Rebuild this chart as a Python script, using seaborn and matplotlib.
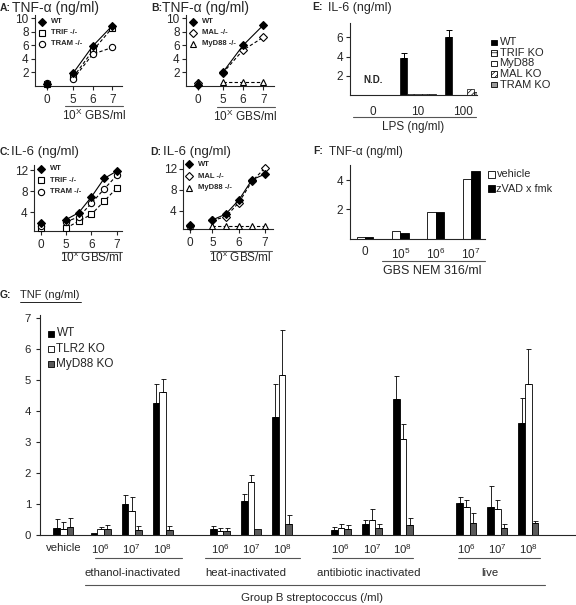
import matplotlib
matplotlib.use("Agg")
import matplotlib.pyplot as plt
from matplotlib.lines import Line2D
from matplotlib.patches import Rectangle
import pandas as pd
import seaborn as sns

# ---- values ----
# A / B : TNF-a (ng/ml) vs 10^x GBS/ml
ab_dose = [0, 5, 6, 7]
a_wt = [0.3, 1.9, 5.9, 8.9]
a_trif = [0.3, 1.3, 5.2, 8.6]
a_tram = [0.4, 1.0, 4.7, 5.7]
b_wt = [0.1, 2.0, 6.0, 9.0]
b_mal = [0.5, 1.9, 5.3, 7.2]
b_myd88 = [0.6, 0.6, 0.6, 0.6]

# C / D : IL-6 (ng/ml)
cd_dose = [0, 5, 5.5, 6, 6.5, 7]
c_wt = [1.9, 2.6, 3.9, 6.9, 10.4, 11.8]
c_trif = [1.0, 1.0, 2.3, 3.6, 6.1, 8.6]
c_tram = [1.4, 2.2, 3.1, 5.7, 8.4, 11.0]
d_wt = [1.2, 2.2, 3.3, 6.0, 9.9, 11.0]
d_mal = [1.1, 2.1, 2.8, 5.5, 9.6, 12.2]
d_myd88 = [1.0, 1.0, 1.0, 1.0, 1.0, 1.0]

# E : IL-6 vs LPS
e_lps = ["0", "10", "100"]
e_strains = ["WT", "TRIF KO", "MyD88", "MAL KO", "TRAM KO"]
e_wt = [0.05, 3.9, 6.0]
e_wt_err = [0.0, 0.45, 0.7]
e_trif = [0.05, 0.12, 0.05]
e_myd88 = [0.05, 0.18, 0.05]
e_mal = [0.05, 0.15, 0.7]
e_tram = [0.05, 0.1, 0.35]

# F : TNF-a vs GBS NEM 316
f_dose = ["0", r"$\mathregular{10^5}$", r"$\mathregular{10^6}$", r"$\mathregular{10^7}$"]
f_treat = ["vehicle", "zVAD x fmk"]
f_vehicle = [0.12, 0.5, 1.85, 4.1]
f_zvad = [0.12, 0.42, 1.85, 4.6]

# G : TNF (ng/ml)
g_ticks = ["vehicle"] + [r"$\mathregular{10^6}$", r"$\mathregular{10^7}$", r"$\mathregular{10^8}$"] * 4
g_groups = ["ethanol-inactivated", "heat-inactivated", "antibiotic inactivated", "live"]
g_strains = ["WT", "TLR2 KO", "MyD88 KO"]
g_wt = [0.22, 0.05, 1.0, 4.27, 0.18, 1.1, 3.8, 0.15, 0.34, 4.4, 1.04, 0.89, 3.61]
g_wt_err = [0.30, 0.0, 0.28, 0.60, 0.12, 0.22, 1.08, 0.12, 0.14, 0.73, 0.20, 0.69, 0.81]
g_tlr2 = [0.20, 0.18, 0.77, 4.63, 0.14, 1.72, 5.15, 0.22, 0.47, 3.09, 0.89, 0.84, 4.87]
g_tlr2_err = [0.23, 0.09, 0.45, 0.42, 0.08, 0.21, 1.45, 0.12, 0.36, 0.49, 0.24, 0.28, 1.13]
g_myd88 = [0.25, 0.19, 0.16, 0.16, 0.13, 0.18, 0.35, 0.20, 0.23, 0.32, 0.40, 0.23, 0.39]
g_myd88_err = [0.30, 0.13, 0.12, 0.14, 0.11, 0.0, 0.28, 0.11, 0.13, 0.23, 0.30, 0.11, 0.07]

# ---- layout ----
g_pos = [0, 1.2, 2.2, 3.2, 5.05, 6.05, 7.05, 8.95, 9.95, 10.95, 13, 14, 15]

sns.set_style("ticks")
plt.rcParams["font.family"] = ["Liberation Sans", "DejaVu Sans"]
plt.rcParams["mathtext.fontset"] = "custom"
plt.rcParams["mathtext.rm"] = "Liberation Sans"
plt.rcParams["axes.linewidth"] = 0.8
plt.rcParams["hatch.linewidth"] = 0.5

W, H = 576, 605
fig = plt.figure(figsize=(W / 100, H / 100), dpi=100)


def box(l, t, r, b):
    return [l / W, 1 - b / H, (r - l) / W, (b - t) / H]


def ftext(x, y, s, **kw):
    kw.setdefault("va", "center")
    fig.text(x / W, 1 - y / H, s, **kw)


def fline(x1, x2, y, color="#555555", lw=0.8):
    fig.add_artist(Line2D([x1 / W, x2 / W], [1 - y / H, 1 - y / H],
                          transform=fig.transFigure, color=color, lw=lw))


def fmark(x, y, **kw):
    fig.add_artist(Line2D([x / W], [1 - y / H], transform=fig.transFigure,
                          ls="none", mec="black", mew=0.8, **kw))


def fsquare(x, y, size, fc, hatch=None):
    fig.add_artist(Rectangle(((x - size / 2) / W, 1 - (y + size / 2) / H), size / W, size / H,
                             transform=fig.transFigure, fc=fc, ec="black", lw=0.6, hatch=hatch))


def title(x, y, letter, s, tx, size=10):
    ftext(x, y, letter + ":", fontsize=7.5, fontweight="bold")
    ftext(tx, y, s, fontsize=size)


def dose_panel(rect, dose, pos0, xlim, ylim, yticks, series, legend):
    ax = fig.add_axes(box(*rect))
    pos = [pos0 if d == 0 else d for d in dose]
    for name, vals, mk, fc, ls, ms in series:
        z = 4 if fc == "black" else 3
        sns.lineplot(x=pos[1:], y=vals[1:], ax=ax, color="black", lw=0.8, linestyle=ls,
                     marker=mk, ms=ms, mfc=fc, mec="black", mew=0.8, zorder=z)
        ax.plot(pos[0], vals[0], ls="none", marker=mk, ms=ms, mfc=fc, mec="black", mew=0.8,
                zorder=z, clip_on=False)
    ax.set_xticks([pos0, 5, 6, 7], ["0", "5", "6", "7"])
    ax.set_yticks(yticks, [str(t) for t in yticks])
    ax.set_xlim(*xlim)
    ax.set_ylim(*ylim)
    ax.tick_params(length=3, width=0.8, labelsize=8.5, pad=1.5)
    ax.tick_params(axis="x", pad=2.5)
    sns.despine(ax=ax)
    lx, ly0, dy = legend
    for i, (name, vals, mk, fc, ls, ms) in enumerate(series):
        fmark(lx, ly0 + i * dy, marker=mk, ms=ms, mfc=fc)
        ftext(lx + 9, ly0 + i * dy, name, fontsize=5.5, fontweight="bold")
    return ax


dash = (0, (3, 2))
# A
dose_panel((35, 15, 122, 86), ab_dose, 3.67, (3.05, 7.5), (0, 10.5), [2, 4, 6, 8, 10],
           [("WT", a_wt, "D", "black", "-", 4.5),
            ("TRIF -/-", a_trif, "s", "white", dash, 4.2),
            ("TRAM -/-", a_tram, "o", "white", dash, 4.5)],
           (42, 21.5, 11.2))
title(0, 8, "A", "TNF-α (ng/ml)", 12.5)
fline(65, 123, 106)
ftext(94, 115.5, r"10$^{\mathregular{X}}$ GBS/ml", fontsize=8.5, ha="center")

# B
dose_panel((186, 15, 274, 86), ab_dose, 3.78, (3.19, 7.53), (0, 10.5), [2, 4, 6, 8, 10],
           [("WT", b_wt, "D", "black", "-", 4.5),
            ("MAL -/-", b_mal, "D", "white", dash, 4.5),
            ("MyD88 -/-", b_myd88, "^", "white", dash, 4.5)],
           (193, 21.5, 11.2))
title(151, 8, "B", "TNF-α (ng/ml)", 162.5)
fline(217, 275, 106.5)
ftext(245, 116.5, r"10$^{\mathregular{X}}$ GBS/ml", fontsize=8.5, ha="center")

# C
dose_panel((34, 165, 122, 231), cd_dose, 4.02, (3.75, 7.2), (0.45, 12.95), [4, 8, 12],
           [("WT", c_wt, "D", "black", "-", 4.5),
            ("TRIF -/-", c_trif, "s", "white", dash, 4.2),
            ("TRAM -/-", c_tram, "o", "white", dash, 4.5)],
           (40.5, 168.5, 11.7))
title(0, 152, "C", "IL-6 (ng/ml)", 11, size=9.5)
fline(62, 122, 251.5)
ftext(91, 258.5, r"10$^{\mathregular{x}}$ GBS/ml", fontsize=8.5, ha="center")

# D
dose_panel((183, 160, 273, 229), cd_dose, 4.14, (3.88, 7.3), (0.45, 13.7), [4, 8, 12],
           [("WT", d_wt, "D", "black", "-", 4.5),
            ("MAL -/-", d_mal, "D", "white", dash, 4.5),
            ("MyD88 -/-", d_myd88, "^", "white", dash, 4.5)],
           (189, 164, 12))
title(150, 152, "D", "IL-6 (ng/ml)", 163, size=9.5)
fline(210, 272, 251)
ftext(240, 258.5, r"10$^{\mathregular{x}}$ GBS/ml", fontsize=8.5, ha="center")

# E
eax = fig.add_axes(box(350, 22.7, 477, 95.3))
e_df = pd.DataFrame({
    "LPS": e_lps * len(e_strains),
    "IL6": e_wt + e_trif + e_myd88 + e_mal + e_tram,
    "strain": [s for s in e_strains for _ in e_lps],
})
e_colors = ["black", "white", "white", "white", "#9a9a9a"]
e_hatch = [None, "+++", None, "//////", None]
sns.barplot(data=e_df, x="LPS", y="IL6", hue="strain", order=e_lps, hue_order=e_strains,
            palette=e_colors, saturation=1, width=0.8, edgecolor="black", linewidth=0.5,
            errorbar=None, legend=False, ax=eax)
for i, h in enumerate(e_hatch):
    if h:
        for p in eax.patches[i * len(e_lps):(i + 1) * len(e_lps)]:
            p.set_hatch(h)
wt_x = [p.get_x() + p.get_width() / 2 for p in eax.patches[:len(e_lps)]]
eax.errorbar(wt_x[1:], e_wt[1:], yerr=[[0, 0], e_wt_err[1:]], fmt="none", ecolor="black",
             elinewidth=0.7, capsize=2, capthick=0.7)
eax.text(0, 1.6, "N.D.", ha="center", va="center", fontsize=7, fontweight="bold")
eax.set_xlim(-0.51, 2.31)
eax.set_ylim(0, 7.5)
eax.set_yticks([2, 4, 6])
eax.set_xlabel("")
eax.set_ylabel("")
eax.tick_params(axis="y", length=3, width=0.8, labelsize=8.5, pad=2)
eax.tick_params(axis="x", length=0, labelsize=8.5, pad=7.5)
sns.despine(ax=eax)
title(312.5, 7.5, "E", "IL-6 (ng/ml)", 328, size=9)
fline(353, 476, 116.5)
ftext(413, 127, "LPS (ng/ml)", fontsize=8.5, ha="center")
for i, s in enumerate(e_strains):
    fsquare(494, 42.3 + i * 10.6, 5.5, e_colors[i], e_hatch[i])
    ftext(499.5, 42.3 + i * 10.6, s, fontsize=8)

# F
fax = fig.add_axes(box(350, 165, 485, 238.7))
f_df = pd.DataFrame({
    "dose": f_dose * 2,
    "TNF": f_vehicle + f_zvad,
    "treat": [t for t in f_treat for _ in f_dose],
})
sns.barplot(data=f_df, x="dose", y="TNF", hue="treat", order=f_dose, hue_order=f_treat,
            palette=["white", "black"], saturation=1, width=0.47, edgecolor="black",
            linewidth=0.6, errorbar=None, legend=False, ax=fax)
fax.set_xlim(-0.42, 3.39)
fax.set_ylim(0, 5.03)
fax.set_yticks([2, 4])
fax.set_xlabel("")
fax.set_ylabel("")
fax.tick_params(axis="y", length=3, width=0.8, labelsize=8.5, pad=2)
fax.tick_params(axis="x", length=0, labelsize=8.5, pad=5.5)
sns.despine(ax=fax)
title(313, 151.5, "F", "TNF-α (ng/ml)", 329, size=8.5)
fline(382, 485, 261)
ftext(432, 271, "GBS NEM 316/ml", fontsize=9, ha="center")
for i, (t, c) in enumerate(zip(f_treat, ["white", "black"])):
    fsquare(491.5, 174.3 + i * 14.7, 7, c)
    ftext(496.5, 174.3 + i * 14.7, t, fontsize=7.8)

# G
gax = fig.add_axes(box(39.5, 315, 575, 535))
bw = 0.215
g_colors = ["black", "white", "#5a5a5a"]
for k, (vals, errs) in enumerate([(g_wt, g_wt_err), (g_tlr2, g_tlr2_err), (g_myd88, g_myd88_err)]):
    xs = [p + (k - 1) * bw for p in g_pos]
    gax.bar(xs, vals, width=bw, color=g_colors[k], edgecolor="black", linewidth=0.6)
    keep = [i for i, e in enumerate(errs) if e > 0]
    gax.errorbar([xs[i] for i in keep], [vals[i] for i in keep],
                 yerr=[[0] * len(keep), [errs[i] for i in keep]], fmt="none",
                 ecolor="black", elinewidth=0.6, capsize=1.8, capthick=0.6)
gax.set_xticks(g_pos, g_ticks)
gax.set_xlim(-0.77, 16.5)
gax.set_ylim(0, 7.1)
gax.set_yticks(range(8))
gax.tick_params(axis="y", length=3, width=0.8, labelsize=8.2, pad=3)
gax.tick_params(axis="x", length=0, labelsize=8.2, pad=5.5)
sns.despine(ax=gax)
ftext(0, 295, "G:", fontsize=7.5, fontweight="bold")
ftext(20, 295, "TNF (ng/ml)", fontsize=8)
fline(20, 81, 301.5, color="black", lw=0.6)
for i, s in enumerate(g_strains):
    fsquare(51, 333.5 + i * 15.2, 6, g_colors[i])
    ftext(56.5, 333.5 + i * 15.2, s, fontsize=8.5)
for (x1, x2, xc), name in zip([(95, 182, 133), (205, 300, 246), (332, 413, 369), (458, 540, 490)],
                               g_groups):
    fline(x1, x2, 558.3)
    ftext(xc, 573, name, fontsize=8.2, ha="center")
fline(85, 545, 585)
ftext(312, 598, "Group B streptococcus (/ml)", fontsize=8.2, ha="center")

fig.savefig("out.png", dpi=100)
